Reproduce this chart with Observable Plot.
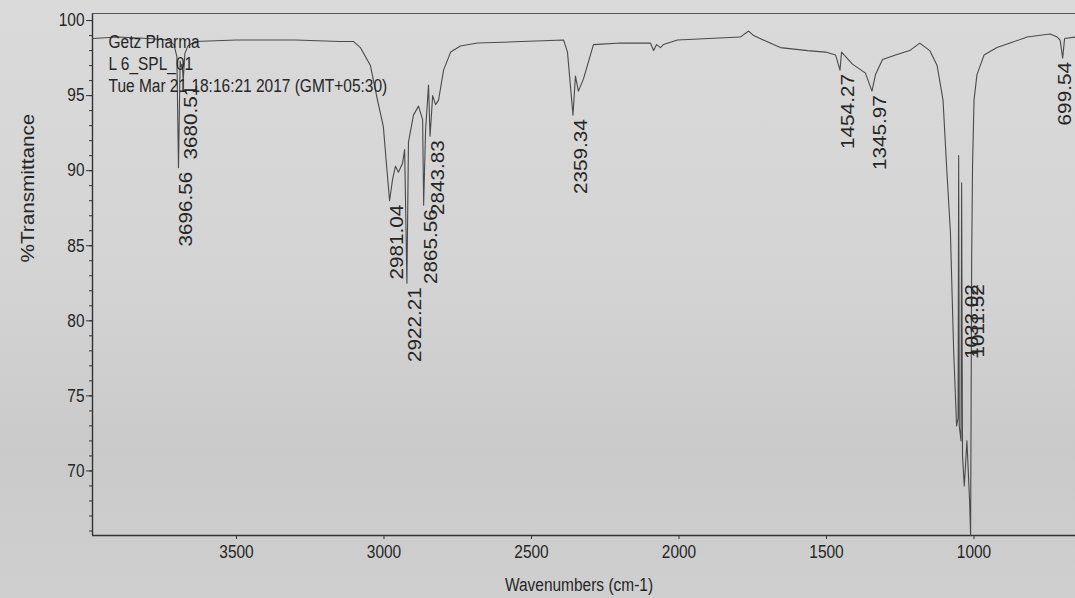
<!DOCTYPE html>
<html>
<head>
<meta charset="utf-8">
<script src="https://cdn.jsdelivr.net/npm/d3@7"></script>
<script src="https://cdn.jsdelivr.net/npm/@observablehq/plot@0.6"></script>
<style>
  html, body { margin: 0; padding: 0; }
  body {
    width: 1075px; height: 598px; overflow: hidden;
    background: linear-gradient(180deg, #dadada 0%, #d4d4d4 45%, #cacaca 75%, #cfcfcf 100%);
  }
</style>
</head>
<body>
<div id="chart"></div>
<script>
// ---- data ----
const wavenumbers = [
  3988, 3900, 3800, 3730, 3712, 3702, 3696.56, 3691, 3687, 3684, 3680.51, 3675, 3665, 3640,
  3500, 3300, 3150, 3103, 3080, 3046, 3022, 3005, 3002, 2991, 2981.04, 2971, 2961, 2951,
  2937, 2930, 2922.21, 2917, 2900, 2883, 2869, 2865.56, 2859, 2849, 2843.83, 2835, 2825,
  2815, 2798, 2774, 2741, 2683, 2391, 2378, 2359.34, 2351, 2341, 2324, 2290, 2198, 2107,
  2097, 2086, 2076, 2063, 2053, 2005, 1792, 1764, 1747, 1680, 1656, 1564, 1503, 1469,
  1454.27, 1449, 1412, 1368, 1345.97, 1334, 1310, 1266, 1218, 1184, 1150, 1125, 1105,
  1093, 1080, 1069, 1059, 1054, 1052, 1050, 1044, 1042, 1039, 1033.02, 1024, 1015,
  1011.52, 1008, 1005, 1000, 990, 966, 922, 878, 820, 742, 718, 708, 699.54, 693, 656
];
const transmittance = [
  98.8, 98.9, 98.8, 98.7, 98.4, 97.6, 90.2, 97.3, 96.9, 97.1, 96.0, 97.8, 98.3, 98.6,
  98.7, 98.7, 98.6, 98.6, 98.2, 97.0, 94.7, 93.2, 92.9, 90.3, 88.0, 89.4, 90.3, 89.9,
  90.5, 91.4, 82.5, 91.9, 93.7, 94.3, 93.4, 87.7, 92.7, 95.7, 92.3, 95.0, 94.4,
  94.7, 96.7, 97.9, 98.3, 98.5, 98.7, 97.9, 93.7, 96.3, 95.3, 96.1, 98.4, 98.5, 98.5,
  98.5, 98.0, 98.4, 98.2, 98.4, 98.7, 98.9, 99.3, 99.0, 98.4, 98.2, 98.0, 97.9, 97.7,
  96.7, 97.9, 97.1, 96.5, 95.3, 96.4, 97.4, 97.7, 98.0, 98.5, 98.0, 97.0, 94.7,
  90.3, 85.9, 78.0, 73.0, 73.5, 91.0, 73.0, 72.0, 89.2, 71.0, 69.0, 72.0, 68.0,
  65.7, 84.0, 90.3, 94.7, 96.4, 97.7, 98.2, 98.5, 98.9, 99.1, 98.9, 98.7, 97.5, 98.8, 98.9
];

const peakLabels = ["3696.56", "3680.51", "2981.04", "2922.21", "2865.56", "2843.83",
  "2359.34", "1454.27", "1345.97", "1033.02", "1011.52", "699.54"];
const peakLabelT = [90.2, 96.0, 88.0, 82.5, 87.7, 92.3, 93.7, 96.7, 95.3, 82.7, 82.7, 97.5];

const headerLines = ["Getz Pharma", "L 6_SPL_01", "Tue Mar 21 18:16:21 2017 (GMT+05:30)"];
const xTicks = [3500, 3000, 2500, 2000, 1500, 1000];
const yTicks = [70, 75, 80, 85, 90, 95, 100];
const yMinorTicks = d3.range(66, 101);
const xLabel = "Wavenumbers (cm-1)";
const yLabel = "%Transmittance";
const xDomain = [3988, 656];
const yDomain = [65.7, 100.47];

// ---- tables for the library ----
const spectrum = wavenumbers.map((w, i) => ({wn: w, t: transmittance[i]}));
const peaks = peakLabels.map((s, i) => ({wn: +s, t: peakLabelT[i], label: s}));
const innerPeaks = peaks.filter(d => d.wn > 800);
const edgePeaks = peaks.filter(d => d.wn <= 800);

const ink = "#262626";
const lineInk = "#4a4a4a";
const fs = 18;
const peakText = {x: "wn", y: "t", text: "label", rotate: -90, textAnchor: "end", lineAnchor: "middle", dy: 4, fontSize: fs, fill: ink};

const plot = Plot.plot({
  width: 1075,
  height: 598,
  marginLeft: 92,
  marginRight: 0,
  marginTop: 13,
  marginBottom: 63,
  style: {fontFamily: "'Liberation Sans', Arial, sans-serif", fontSize: "18px", color: ink, background: "transparent", overflow: "visible"},
  x: {domain: xDomain, label: null},
  y: {domain: yDomain, label: null},
  marks: [
    Plot.ruleX([xDomain[0]], {stroke: "#333", strokeWidth: 1.4}),
    Plot.ruleY([yDomain[0]], {stroke: "#333", strokeWidth: 1.4}),
    Plot.ruleY([yDomain[1]], {stroke: "#555", strokeWidth: 1}),
    Plot.axisX({ticks: xTicks, tickFormat: d => String(d), tickSize: 4, tickPadding: 6, fontSize: fs, stroke: "#333", fill: ink, label: null}),
    Plot.axisY({ticks: yMinorTicks, tickSize: 3, tickFormat: () => "", stroke: "#333", label: null}),
    Plot.axisY({ticks: yTicks, tickFormat: d => String(d), tickSize: 6, tickPadding: 2, fontSize: fs, stroke: "#333", fill: ink, label: null}),
    Plot.line(spectrum, {x: "wn", y: "t", stroke: lineInk, strokeWidth: 1.1}),
    Plot.text(innerPeaks, {...peakText, dx: 8}),
    Plot.text(edgePeaks, {...peakText, dx: 3}),
    Plot.text([headerLines[0]], {frameAnchor: "top-left", dx: 16, dy: 29, textAnchor: "start", lineAnchor: "middle", fontSize: fs, fill: ink}),
    Plot.text([headerLines[1]], {frameAnchor: "top-left", dx: 16, dy: 51, textAnchor: "start", lineAnchor: "middle", fontSize: fs, fill: ink}),
    Plot.text([headerLines[2]], {frameAnchor: "top-left", dx: 16, dy: 73, textAnchor: "start", lineAnchor: "middle", fontSize: fs, fill: ink}),
    Plot.text([xLabel], {frameAnchor: "bottom", dx: -5, dy: 50, lineAnchor: "middle", fontSize: fs, fill: ink}),
    Plot.text([yLabel], {frameAnchor: "left", dx: -64, dy: -12, rotate: -90, lineAnchor: "middle", fontSize: fs, fill: ink})
  ]
});

document.getElementById("chart").append(plot);

// the photographed print is squeezed horizontally: narrow horizontal text, long vertical text
for (const t of plot.querySelectorAll("text")) {
  const len = t.getComputedTextLength();
  if (!len) continue;
  const rotated = (t.getAttribute("transform") || "").includes("rotate");
  t.setAttribute("textLength", (len * (rotated ? 1.15 : 0.86)).toFixed(1));
  t.setAttribute("lengthAdjust", "spacingAndGlyphs");
}
</script>
</body>
</html>
